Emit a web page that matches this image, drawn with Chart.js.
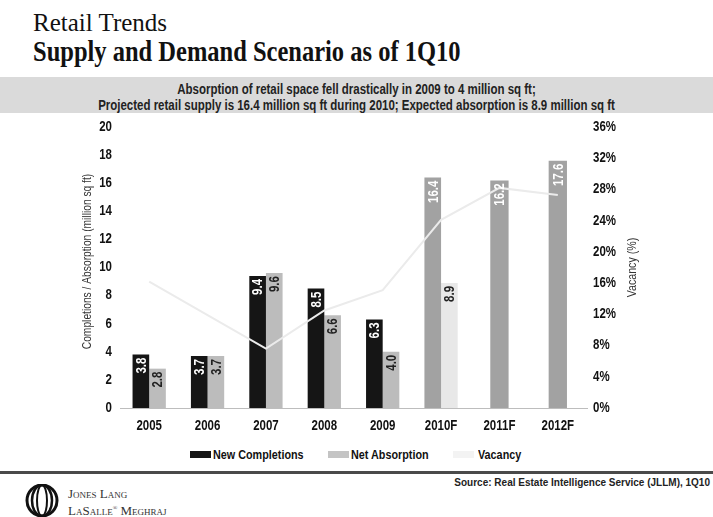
<!DOCTYPE html>
<html>
<head>
<meta charset="utf-8">
<script src="https://cdn.jsdelivr.net/npm/chart.js@4.4.1/dist/chart.umd.min.js"></script>
<style>
  body { margin: 0; width: 713px; height: 517px; background: #fff; position: relative; overflow: hidden; }
  .t1 { position: absolute; left: 33px; top: 9px; font: 25px 'Liberation Serif', 'Times New Roman', serif; color: #111; white-space: nowrap; }
  .t2 { position: absolute; left: 33px; top: 35px; font: bold 24.5px 'Liberation Serif', 'Times New Roman', serif; color: #111;
        transform: scaleY(1.2); transform-origin: 0 0; white-space: nowrap; }
  .band { position: absolute; left: 0; top: 77px; width: 713px; height: 36px; background: #dadada; }
  .band div { position: absolute; left: 0; top: 4px; width: 713px; text-align: center; line-height: 14px; white-space: nowrap;
              font: bold 14px 'Liberation Sans', Arial, sans-serif; color: #222; transform: scaleX(0.82); }
  #wrap { position: absolute; left: 0; top: 116px; width: 713px; height: 317px; }
  .leg { position: absolute; top: 447px; height: 14px; }
  .leg i { position: absolute; left: 0; top: 4px; width: 21px; height: 7px; }
  .leg span { position: absolute; left: 23px; top: 0; line-height: 14px; white-space: nowrap;
              font: bold 13.5px 'Liberation Sans', Arial, sans-serif; color: #111; transform: scaleX(0.8); transform-origin: 0 0; }
  .rule { position: absolute; left: 0; top: 471px; width: 713px; height: 3px; background: #4a4a4a; }
  .src { position: absolute; right: 3px; top: 477px; font: bold 10px 'Liberation Sans', Arial, sans-serif; color: #222; }
  .logo { position: absolute; left: 25px; top: 484px; }
  .lname { position: absolute; left: 68px; top: 486px; font: 13px 'Liberation Serif', serif; font-variant: small-caps; color: #333; line-height: 15px; }
</style>
</head>
<body>
<div class="t1">Retail Trends</div>
<div class="t2">Supply and Demand Scenario as of 1Q10</div>
<div class="band"><div>Absorption of retail space fell drastically in 2009 to 4 million sq ft;<br>Projected retail supply is 16.4 million sq ft during 2010; Expected absorption is 8.9 million sq ft</div></div>
<div id="wrap"><canvas id="chart"></canvas></div>
<div class="leg" style="left:190px"><i style="background:#151515"></i><span>New Completions</span></div>
<div class="leg" style="left:328px"><i style="background:#c4c4c4"></i><span>Net Absorption</span></div>
<div class="leg" style="left:453px"><i style="background:#f3f3f3"></i><span style="left:25px">Vacancy</span></div>
<div class="rule"></div>
<div class="src">Source: Real Estate Intelligence Service (JLLM), 1Q10</div>
<svg class="logo" width="34" height="33" viewBox="0 0 34 33">
  <g fill="none" stroke="#111">
    <ellipse cx="17" cy="16.5" rx="15" ry="15.5" stroke-width="3"/>
    <ellipse cx="17" cy="16.5" rx="10" ry="15.5" stroke-width="2.5"/>
    <ellipse cx="17" cy="16.5" rx="5" ry="15.5" stroke-width="2"/>
  </g>
</svg>
<div class="lname">Jones Lang<br>LaSalle<sup style="font-size:6px">®</sup> Meghraj</div>
<script>
// catégories et valeurs
const years = ['2005', '2006', '2007', '2008', '2009', '2010F', '2011F', '2012F'];
const newCompletions = [3.8, 3.7, 9.4, 8.5, 6.3, 16.4, null, null];
const netAbsorption = [2.8, 3.7, 9.6, 6.6, 4.0, 8.9, null, null];
const forecastSupply = [null, null, null, null, null, null, 16.2, 17.6];
const vacancy = [16.2, 11.9, 7.6, 12.5, 15.1, 24.1, 28.2, 27.3];
const leftTicks = [0, 2, 4, 6, 8, 10, 12, 14, 16, 18, 20];
const rightTicks = [0, 4, 8, 12, 16, 20, 24, 28, 32, 36];

// couleurs par barre (les prévisions sont en gris)
const complColors = years.map(y => y.endsWith('F') ? '#a2a2a2' : '#151515');
const absColors = years.map(y => y.endsWith('F') ? '#e8e8e8' : '#bcbcbc');

// texte "Arial Narrow" simulé : Liberation Sans compressée à 82 %
function narrowText(ctx, txt, x, y, size, bold, align, rot, color) {
  ctx.save();
  ctx.translate(x, y);
  if (rot) ctx.rotate(rot);
  ctx.scale(0.82, 1);
  ctx.font = (bold ? 'bold ' : '') + size + "px 'Liberation Sans', Arial, sans-serif";
  ctx.textAlign = align;
  ctx.textBaseline = 'middle';
  ctx.fillStyle = color;
  ctx.fillText(txt, 0, 0);
  ctx.restore();
}

// graduations, titres d'axes et étiquettes des barres
const textPlugin = {
  id: 'textPlugin',
  afterDraw(chart) {
    const ctx = chart.ctx;
    const { x, y, y2 } = chart.scales;
    const area = chart.chartArea;
    const midY = (area.top + area.bottom) / 2;

    years.forEach((lab, i) => narrowText(ctx, lab, x.getPixelForValue(i), area.bottom + 18, 14, true, 'center', 0, '#111'));
    leftTicks.forEach(v => narrowText(ctx, String(v), area.left - 8, y.getPixelForValue(v), 14, true, 'right', 0, '#111'));
    rightTicks.forEach(v => narrowText(ctx, v + '%', area.right + 6, y2.getPixelForValue(v), 14, true, 'left', 0, '#111'));

    narrowText(ctx, 'Completions / Absorption (million sq ft)', 88, midY - 6, 12.5, false, 'center', -Math.PI / 2, '#333');
    narrowText(ctx, 'Vacancy (%)', 632, midY, 13, false, 'center', -Math.PI / 2, '#333');

    [0, 1, 2].forEach(di => {
      const ds = chart.data.datasets[di];
      chart.getDatasetMeta(di).data.forEach((bar, i) => {
        const v = ds.data[i];
        if (v == null) return;
        narrowText(ctx, v.toFixed(1), bar.x + 1, bar.y + 3, 14, true, 'right', -Math.PI / 2, di === 1 ? '#222' : '#fff');
      });
    });
  }
};

const ctx = document.getElementById('chart').getContext('2d');
const chart = new Chart(ctx, {
  data: {
    labels: years,
    datasets: [
      { type: 'bar', label: 'New Completions', data: newCompletions, backgroundColor: complColors,
        yAxisID: 'y', categoryPercentage: 0.57, barPercentage: 1, order: 1 },
      { type: 'bar', label: 'Net Absorption', data: netAbsorption, backgroundColor: absColors,
        yAxisID: 'y', categoryPercentage: 0.57, barPercentage: 1, order: 1 },
      { type: 'bar', label: 'Supply (forecast)', data: forecastSupply, backgroundColor: '#a2a2a2',
        yAxisID: 'y', grouped: false, categoryPercentage: 0.57, barPercentage: 0.55, order: 1 },
      { type: 'line', label: 'Vacancy', data: vacancy, borderColor: '#ebebeb', borderWidth: 2,
        pointRadius: 0, tension: 0, yAxisID: 'y2', order: 0 }
    ]
  },
  options: {
    responsive: true,
    maintainAspectRatio: false,
    animation: false,
    layout: { padding: { top: 11, left: 0, right: 0, bottom: 0 } },
    plugins: { legend: { display: false }, tooltip: { enabled: false } },
    scales: {
      x: {
        grid: { display: false, drawTicks: false },
        border: { color: '#bdbdbd', width: 1 },
        ticks: { display: false },
        afterFit: s => { s.height = 25; }
      },
      y: {
        position: 'left', min: 0, max: 20,
        afterBuildTicks: s => { s.ticks = leftTicks.map(v => ({ value: v })); },
        afterFit: s => { s.width = 120; },
        grid: { display: false, drawTicks: false },
        border: { display: false },
        ticks: { display: false }
      },
      y2: {
        position: 'right', min: 0, max: 36,
        afterBuildTicks: s => { s.ticks = rightTicks.map(v => ({ value: v })); },
        afterFit: s => { s.width = 126; },
        grid: { display: false, drawTicks: false },
        border: { display: false },
        ticks: { display: false }
      }
    }
  },
  plugins: [textPlugin]
});
</script>
</body>
</html>
